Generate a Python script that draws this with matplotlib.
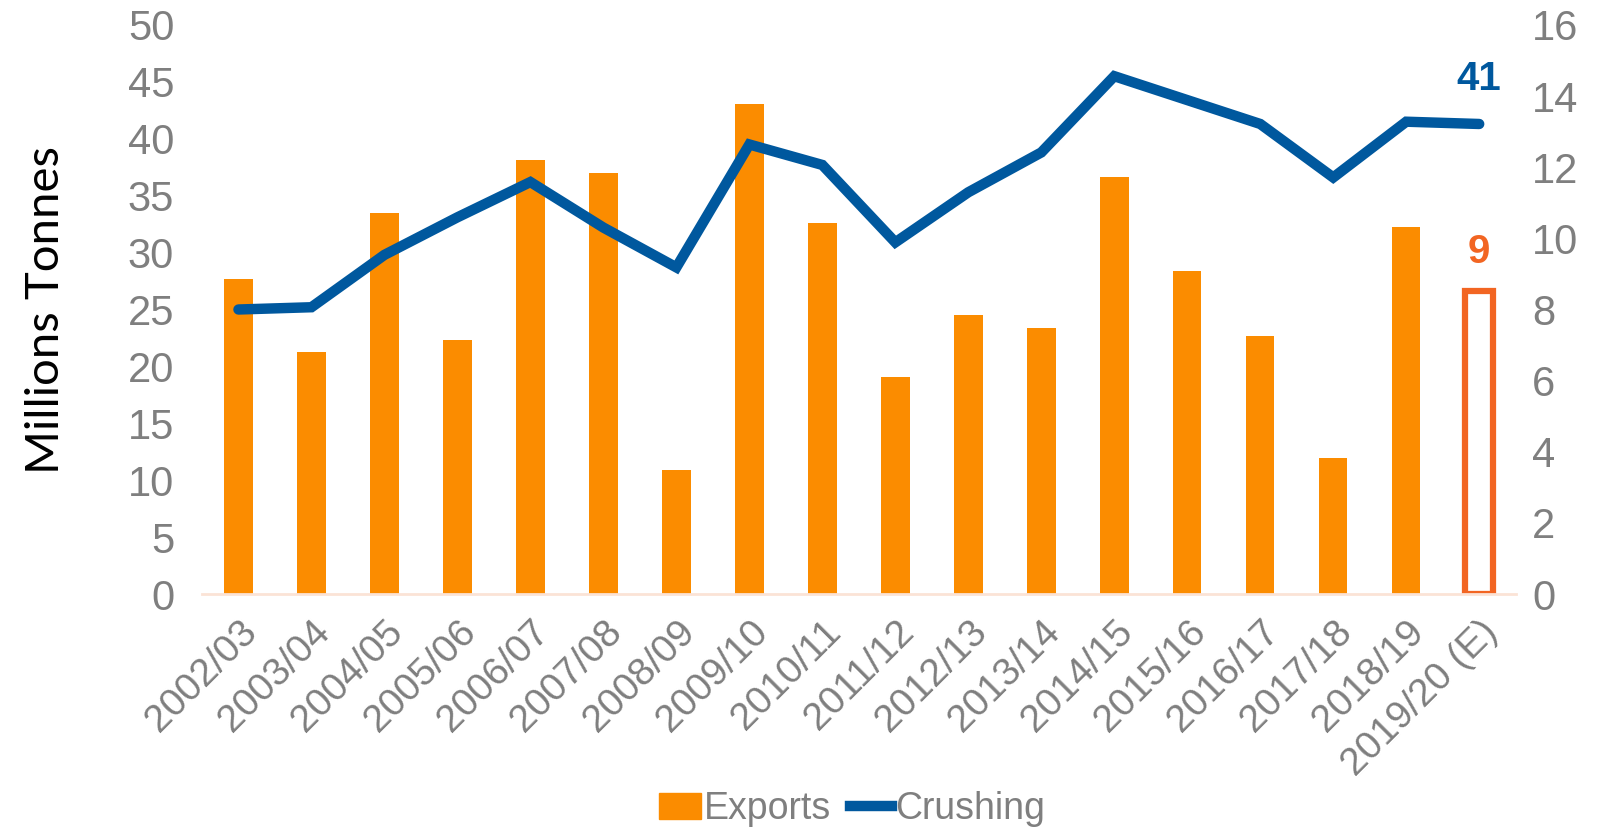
import matplotlib.pyplot as plt
import numpy as np

# data
seasons = ['2002/03', '2003/04', '2004/05', '2005/06', '2006/07', '2007/08',
           '2008/09', '2009/10', '2010/11', '2011/12', '2012/13', '2013/14',
           '2014/15', '2015/16', '2016/17', '2017/18', '2018/19', '2019/20 (E)']
exports = [8.85, 6.8, 10.72, 7.15, 12.19, 11.85, 3.49, 13.78, 10.44, 6.11,
           7.84, 7.47, 11.73, 9.08, 7.26, 3.83, 10.32, 8.53]
crushing = [25.0, 25.2, 29.8, 33.1, 36.2, 32.2, 28.7, 39.5, 37.7, 30.9,
            35.3, 38.8, 45.5, 43.4, 41.3, 36.6, 41.5, 41.3]

orange = '#FB8C00'
red_orange = '#F26522'
blue = '#00589E'
grey = '#7F7F7F'

plt.rcParams['font.family'] = ['Liberation Sans', 'DejaVu Sans']

fig = plt.figure(figsize=(16.08, 8.32), dpi=100)
ax = fig.add_axes([0.1256, 0.286, 0.817, 0.684])
ax2 = ax.twinx()

x = np.arange(len(seasons))

# bars on right axis
ax2.bar(x[:-1], exports[:-1], width=0.39, color=orange, zorder=2)
ax2.bar(x[-1], exports[-1], width=0.39, facecolor='white', edgecolor=red_orange,
        linewidth=4.5, zorder=2)
ax2.set_ylim(0, 16)
ax2.set_yticks(range(0, 17, 2))

# line on left axis
ax.plot(x, crushing, color=blue, linewidth=7.5, solid_capstyle='round',
        solid_joinstyle='miter', zorder=3)
ax.set_ylim(0, 50)
ax.set_yticks(range(0, 51, 5))
ax.set_xlim(-0.5, len(seasons) - 0.5)
ax.set_zorder(ax2.get_zorder() + 1)
ax.patch.set_visible(False)

ax.text(x[-1], crushing[-1] + 2.3, '41', color=blue, fontsize=29,
        fontweight='bold', ha='center', va='bottom')
ax2.text(x[-1], exports[-1] + 0.55, '9', color=red_orange, fontsize=29,
         fontweight='bold', ha='center', va='bottom')

for a in (ax, ax2):
    for s in a.spines.values():
        s.set_visible(False)
    a.tick_params(length=0, labelsize=30, labelcolor=grey)
ax.spines['bottom'].set_visible(True)
ax.spines['bottom'].set_color('#FBE3D6')
ax.spines['bottom'].set_linewidth(2)
ax.tick_params(axis='y', pad=20)
ax2.tick_params(axis='y', pad=12)

ax.set_xticks(x)
ax.set_xticklabels(seasons, rotation=45, ha='right', rotation_mode='anchor',
                   fontsize=28)
ax.tick_params(axis='x', pad=14)

ax.set_ylabel('Millions Tonnes', fontsize=34, color='black', family='Lato',
              labelpad=44)

# legend
from matplotlib.patches import Patch
from matplotlib.lines import Line2D
handles = [Patch(color=orange, label='Exports'),
           Line2D([0], [0], color=blue, linewidth=7.5, label='Crushing')]
fig.legend(handles=handles, loc='lower center', bbox_to_anchor=(0.53, -0.035),
           ncol=2, frameon=False, fontsize=27, labelcolor=grey,
           handlelength=1.1, handletextpad=0.1, columnspacing=0.5)

fig.savefig('out.png', dpi=100)
